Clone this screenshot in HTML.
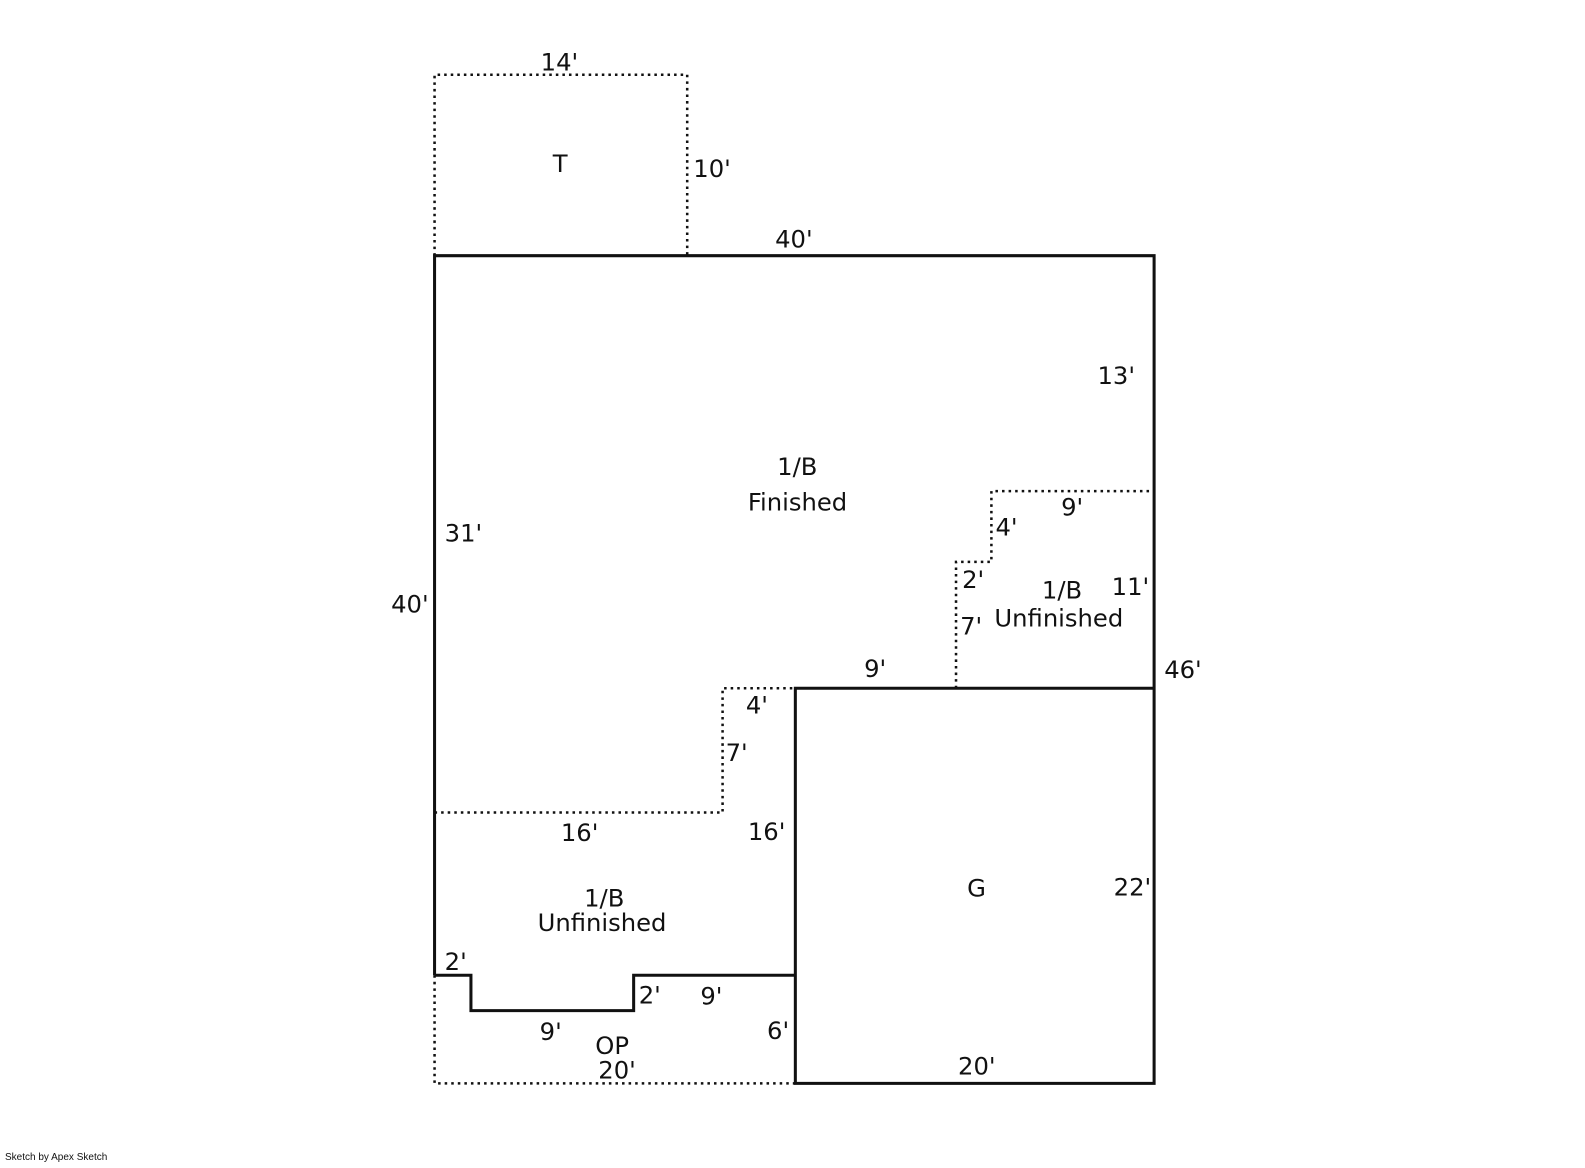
<!DOCTYPE html>
<html><head><style>
html,body{margin:0;padding:0;background:#fff;}
svg text{font-family:"DejaVu Sans","Liberation Sans",sans-serif;font-size:24px;fill:#111;}
</style></head><body>
<svg width="1585" height="1163" viewBox="0 0 1585 1163" xmlns="http://www.w3.org/2000/svg">
<g transform="scale(1.0106)">
<g fill="none" stroke="#111" stroke-width="3">
<polyline points="430,965 430,253 1142,253 1142,1072 787,1072 787,681 1142,681"/>
<polyline points="430,965 466,965 466,1000 627,1000 627,965 787,965"/>
</g>
<g fill="none" stroke="#111" stroke-width="2.5" stroke-dasharray="2.5,4">
<polyline points="430,253 430,74 680,74 680,253"/>
<polyline points="430,965 430,1072 787,1072"/>
<polyline points="430,804 715,804 715,681 787,681"/>
<polyline points="946,681 946,556 981,556 981,486 1142,486"/>
</g>
<text x="535" y="70">14'</text>
<text x="547" y="170">T</text>
<text x="686" y="175">10'</text>
<text x="767" y="245">40'</text>
<text x="1086" y="380">13'</text>
<text x="769" y="470">1/B</text>
<text x="740" y="505">Finished</text>
<text x="440" y="536">31'</text>
<text x="387" y="606">40'</text>
<text x="1050" y="510">9'</text>
<text x="985" y="530">4'</text>
<text x="952" y="582">2'</text>
<text x="1031" y="592">1/B</text>
<text x="1100" y="589">11'</text>
<text x="950" y="628">7'</text>
<text x="984" y="620">Unfinished</text>
<text x="855" y="670">9'</text>
<text x="1152" y="671">46'</text>
<text x="738" y="706">4'</text>
<text x="718" y="753">7'</text>
<text x="555" y="832">16'</text>
<text x="740" y="831">16'</text>
<text x="957" y="887">G</text>
<text x="1102" y="886">22'</text>
<text x="578" y="897">1/B</text>
<text x="532" y="921">Unfinished</text>
<text x="440" y="960">2'</text>
<text x="632" y="993">2'</text>
<text x="693" y="994">9'</text>
<text x="534" y="1029">9'</text>
<text x="589" y="1043">OP</text>
<text x="759" y="1028">6'</text>
<text x="592" y="1067">20'</text>
<text x="948" y="1063">20'</text>
</g>
<text x="5" y="1160" style="font-size:10px;font-family:'Liberation Sans',sans-serif">Sketch by Apex Sketch</text>
</svg>
</body></html>
